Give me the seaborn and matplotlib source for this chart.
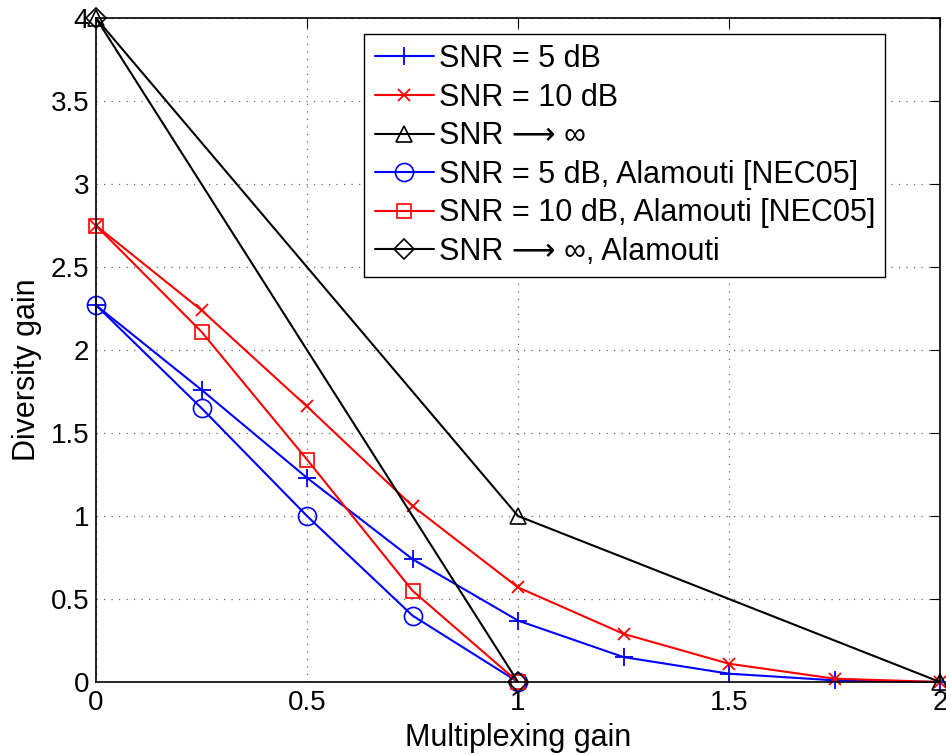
import numpy as np
import pandas as pd
import matplotlib
matplotlib.use('Agg')
import matplotlib.pyplot as plt
import seaborn as sns

# Multiplexing gain values
r_full = [0, 0.25, 0.5, 0.75, 1.0, 1.25, 1.5, 1.75, 2.0]
r_half = [0, 0.25, 0.5, 0.75, 1.0]

# Diversity gain per curve
d_snr5 = [2.27, 1.76, 1.23, 0.74, 0.37, 0.15, 0.05, 0.01, 0.0]
d_snr10 = [2.75, 2.24, 1.66, 1.06, 0.57, 0.29, 0.11, 0.02, 0.0]
r_inf = [0, 1, 2]
d_inf = [4, 1, 0]
d_ala5 = [2.27, 1.65, 1.00, 0.40, 0.0]
d_ala10 = [2.75, 2.11, 1.34, 0.55, 0.0]
r_ala_inf = [0, 1]
d_ala_inf = [4, 0]

labels = ['SNR = 5 dB', 'SNR = 10 dB', 'SNR \u27f6 \u221e',
          'SNR = 5 dB, Alamouti [NEC05]', 'SNR = 10 dB, Alamouti [NEC05]',
          'SNR \u27f6 \u221e, Alamouti']

sns.set_style('white')
plt.rcParams['font.family'] = ['Liberation Sans', 'DejaVu Sans']
plt.rcParams['text.color'] = 'black'
plt.rcParams['axes.labelcolor'] = 'black'
plt.rcParams['xtick.color'] = 'black'
plt.rcParams['ytick.color'] = 'black'

fig = plt.figure(figsize=(9.46, 7.54), dpi=100)
ax = fig.add_axes([0.1015, 0.0955, 0.8922, 0.8805])

series = [
    (r_full, d_snr5, 'blue', '+', dict(markersize=13, markeredgewidth=1.3)),
    (r_full, d_snr10, 'red', 'x', dict(markersize=9, markeredgewidth=1.3)),
    (r_inf, d_inf, 'black', '^', dict(markersize=12, markerfacecolor='none', markeredgewidth=1.2)),
    (r_half, d_ala5, 'blue', 'o', dict(markersize=13, markerfacecolor='none', markeredgewidth=1.2)),
    (r_half, d_ala10, 'red', 's', dict(markersize=10, markerfacecolor='none', markeredgewidth=1.2)),
    (r_ala_inf, d_ala_inf, 'black', 'D', dict(markersize=10, markerfacecolor='none', markeredgewidth=1.2)),
]

for (x, y, c, m, kw), lab in zip(series, labels):
    df = pd.DataFrame({'r': x, 'd': y})
    sns.lineplot(data=df, x='r', y='d', ax=ax, color=c, marker=m, label=lab,
                 linewidth=1.5, markeredgecolor=c, clip_on=False, **kw)

ax.set_xlim(0, 2)
ax.set_ylim(0, 4)
ax.set_xticks([0, 0.5, 1, 1.5, 2])
ax.set_xticklabels(['0', '0.5', '1', '1.5', '2'])
ax.set_yticks(np.arange(0, 4.01, 0.5))
ax.set_yticklabels(['0', '0.5', '1', '1.5', '2', '2.5', '3', '3.5', '4'])
ax.grid(True, linestyle=(0, (1, 5)), color='0.4', linewidth=0.9)
ax.tick_params(direction='in', length=7, labelsize=20, top=True, right=True)
ax.tick_params(axis='x', pad=6)
ax.tick_params(axis='y', pad=5)
for s in ax.spines.values():
    s.set_color('black')
    s.set_linewidth(1.2)
    s.set_visible(True)
ax.set_xlabel('Multiplexing gain', fontsize=22)
ax.set_ylabel('Diversity gain', fontsize=22)
ax.xaxis.set_label_coords(0.5, -0.062)
ax.yaxis.set_label_coords(-0.064, 0.47)

leg = ax.legend(loc='upper right', bbox_to_anchor=(0.935, 0.976), fontsize=22,
                frameon=True, fancybox=False, edgecolor='black', framealpha=1,
                handlelength=1.95, handletextpad=0.15, borderpad=0.33, labelspacing=0.28,
                borderaxespad=0)
leg.get_frame().set_linewidth(1)

fig.savefig('out.png', dpi=100)
